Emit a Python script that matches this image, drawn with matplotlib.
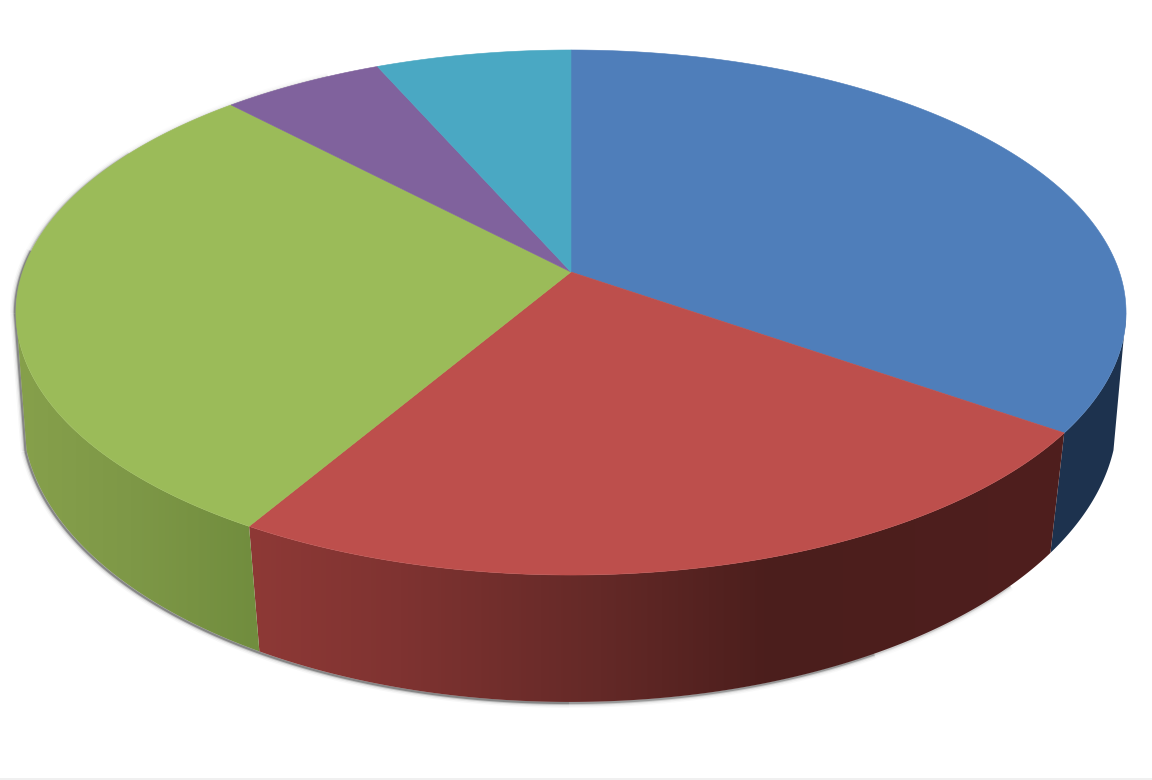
import numpy as np
import matplotlib
matplotlib.use('Agg')
import matplotlib.pyplot as plt
from matplotlib.patches import Polygon

# shares, clockwise from 12 o'clock
labels = ['blue', 'red', 'green', 'purple', 'cyan']
shares = [34.7, 23.8, 29.4, 5.5, 6.6]
top_colors = ['#4F7EBA', '#BD4F4C', '#9BBB59', '#80629D', '#4AA8C3']

# side shading, (pixel x, rgb) stops
side_stops = {
    'blue': [(1050, (29, 50, 78)), (1130, (29, 50, 78))],
    'red': [(250, (142, 57, 54)), (400, (127, 51, 49)), (600, (100, 41, 39)),
            (770, (75, 30, 28)), (1060, (79, 31, 30))],
    'green': [(20, (134, 160, 75)), (130, (126, 152, 71)), (255, (113, 141, 62))],
}

K = 0.1543
K_LOW = 0.128
TILT = np.degrees(np.arccos(-K))   # where the top face is widest
TILT_LOW = 104.2                   # where the straight wall edge meets the lower rim


def top_rim(theta):
    t = np.radians(theta)
    w = 1 + K * np.cos(t)
    return 571 + 548.4 * np.sin(t) / w, (272 - 214.3 * np.cos(t)) / w


def bottom_rim(theta):
    t = np.radians(theta)
    w = 1 + K_LOW * np.cos(t)
    return 570 + 543 * np.sin(t) / w, (378.8 - 233.3 * np.cos(t)) / w


fig = plt.figure(figsize=(11.52, 7.8), dpi=100)
ax = fig.add_axes([0, 0, 1, 1])

edges = np.concatenate([[0], np.cumsum(shares)]) * 3.6

# faint strip along the bottom of the image
ax.fill_between([0, 1152], 778, 780, color='#F0F0F0', lw=0)

# soft shadow, strong on the lower left, fading towards the right
pieces = [
    (top_rim, 300, 330, 0.25),
    (top_rim, 275, 300, 0.5),
    (top_rim, 360 - TILT, 275, 1.0),
    (bottom_rim, 180, 360 - TILT_LOW, 1.0),
    (bottom_rim, 150, 180, 0.8),
    (bottom_rim, 132, 150, 0.35),
]
for rim, a0, a1, strength in pieces:
    xs, ys = rim(np.linspace(a0, a1, 120))
    for lw, a in [(7, 0.04), (5, 0.08), (3, 0.20), (1.6, 0.42)]:
        ax.plot(xs - 1.0, ys + 1.0, color='#333333', lw=lw, alpha=a * strength,
                solid_capstyle='butt', zorder=1)
# straight part of the left edge
xa, ya = top_rim(360 - TILT)
xc, yc = bottom_rim(360 - TILT_LOW)
for lw, a in [(7, 0.04), (5, 0.08), (3, 0.20), (1.6, 0.42)]:
    ax.plot([xa - 1, xc - 1], [ya + 1, yc + 1], color='#333333', lw=lw, alpha=a,
            solid_capstyle='butt', zorder=1)

# side walls, shaded with a horizontal gradient clipped to each wall
for i, name in enumerate(labels):
    if edges[i] >= 360 - TILT:
        continue
    th_top = np.linspace(max(edges[i], TILT), min(edges[i + 1], 360 - TILT), 200)
    th_low = np.linspace(max(edges[i], TILT_LOW), min(edges[i + 1], 360 - TILT_LOW), 200)
    xa, ya = top_rim(th_top)
    xc, yc = bottom_rim(th_low)
    pts = np.column_stack([np.concatenate([xa, xc[::-1]]),
                           np.concatenate([ya, yc[::-1]])])
    stops = side_stops[name]
    px = np.arange(0, 1152)
    grad = np.stack([np.interp(px, [s[0] for s in stops], [s[1][c] for s in stops])
                     for c in range(3)], axis=1) / 255
    im = ax.imshow(grad[np.newaxis, :, :], extent=(0, 1152, 780, 0), aspect='auto',
                   interpolation='nearest', zorder=2)
    clip = Polygon(pts, closed=True, transform=ax.transData)
    im.set_clip_path(clip)

# top face
for i, col in enumerate(top_colors):
    th = np.linspace(edges[i], edges[i + 1], 200)
    xa, ya = top_rim(th)
    pts = np.column_stack([np.concatenate([[571], xa]), np.concatenate([[272], ya])])
    ax.add_patch(Polygon(pts, closed=True, facecolor=col, edgecolor=col, lw=0.4, zorder=3))

ax.set_xlim(0, 1152)
ax.set_ylim(780, 0)
ax.axis('off')

fig.savefig('out.png', dpi=100, facecolor='white')
